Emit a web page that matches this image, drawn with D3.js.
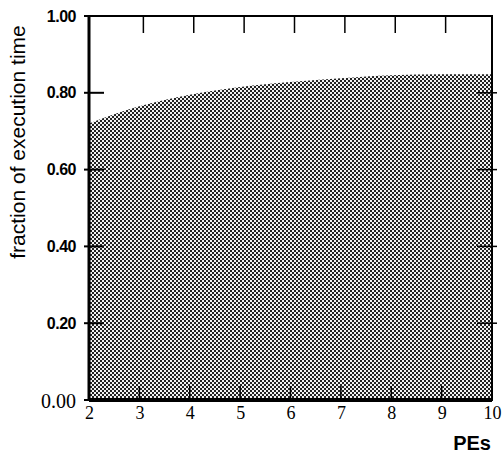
<!DOCTYPE html>
<html><head><meta charset="utf-8">
<script src="https://cdn.jsdelivr.net/npm/d3@7"></script>
<style>body{margin:0;background:#fff}
.serif{font-family:"Liberation Serif","DejaVu Serif","Times New Roman",serif !important;font-weight:normal !important}
.sansb{font-family:"Liberation Sans",Arial,sans-serif;font-weight:bold}
</style>
</head><body>
<svg id="c" width="503" height="464"></svg>
<script>
const pes = [2, 3, 4, 5, 6, 7, 8, 9, 10];
const fraction = [0.72, 0.765, 0.795, 0.815, 0.828, 0.838, 0.846, 0.848, 0.848];
const yTicks = [0, 0.2, 0.4, 0.6, 0.8, 1.0];
const yTickLabels = ["0.00", "0.20", "0.40", "0.60", "0.80", "1.00"];
const xTicks = [2, 3, 4, 5, 6, 7, 8, 9, 10];

const svg = d3.select("#c");
const x = d3.scaleLinear().domain([2, 10]).range([89, 492]);
const y = d3.scaleLinear().domain([0, 1]).range([400, 16]);

const defs = svg.append("defs");
const pat = defs.append("pattern").attr("id", "ht").attr("patternUnits", "userSpaceOnUse")
  .attr("width", 4).attr("height", 4);
pat.append("rect").attr("width", 4).attr("height", 4).attr("fill", "#f2f2f2");
pat.append("rect").attr("x", 0).attr("y", 0).attr("width", 2).attr("height", 2).attr("fill", "#222");
pat.append("rect").attr("x", 2).attr("y", 2).attr("width", 2).attr("height", 2).attr("fill", "#222");

const area = d3.area().x((d, i) => x(pes[i])).y0(y(0)).y1(d => y(d)).curve(d3.curveMonotoneX);
svg.append("path").datum(fraction).attr("d", area).attr("fill", "url(#ht)");

// frame
svg.append("rect").attr("x", x(2)).attr("y", y(1)).attr("width", x(10) - x(2)).attr("height", y(0) - y(1))
  .attr("fill", "none").attr("stroke", "#000").attr("stroke-width", 2);
svg.append("line").attr("x1", x(2)).attr("x2", x(10)).attr("y1", y(0)).attr("y2", y(0))
  .attr("stroke", "#000").attr("stroke-width", 4);
svg.append("line").attr("x1", x(2)).attr("x2", x(2)).attr("y1", y(0)).attr("y2", y(1))
  .attr("stroke", "#000").attr("stroke-width", 3);

// y ticks left
const yl = svg.append("g").attr("transform", `translate(${x(2)},0)`)
  .call(d3.axisLeft(y).tickValues(yTicks).tickSize(0).tickFormat((d, i) => yTickLabels[i]).tickPadding(13));
yl.select(".domain").remove();
yl.attr("font-family", null).attr("font-size", null);
yl.selectAll("text").attr("class", "sansb").attr("font-size", 16).attr("fill", "#000")
  .attr("letter-spacing", -0.5);
yl.selectAll("text").filter(d => d === 0).attr("class", "serif").attr("font-size", 20).attr("letter-spacing", 0).attr("dy", "0.35em");
svg.selectAll(".ytl").data(yTicks.filter(d => d > 0 && d < 1)).enter().append("line")
  .attr("x1", x(2) - 5).attr("x2", x(2) + 15).attr("y1", d => y(d)).attr("y2", d => y(d))
  .attr("stroke", "#000").attr("stroke-width", 2);
svg.selectAll(".ytr").data(yTicks.filter(d => d > 0 && d < 1)).enter().append("line")
  .attr("x1", x(10) - 15).attr("x2", x(10) + 5).attr("y1", d => y(d)).attr("y2", d => y(d))
  .attr("stroke", "#000").attr("stroke-width", 1.5);
svg.append("line").attr("x1", x(2) - 5).attr("x2", x(2)).attr("y1", y(0)).attr("y2", y(0)).attr("stroke", "#000").attr("stroke-width", 2);
svg.append("line").attr("x1", x(2) - 5).attr("x2", x(2)).attr("y1", y(1)).attr("y2", y(1)).attr("stroke", "#000").attr("stroke-width", 2);

// x axis
const xa = svg.append("g").attr("transform", `translate(0,${y(0)})`)
  .call(d3.axisBottom(x).tickValues(xTicks).tickSize(0).tickFormat(d3.format("d")).tickPadding(6));
xa.select(".domain").remove();
xa.attr("font-family", null).attr("font-size", null);
xa.selectAll("text").attr("class", "serif").attr("font-size", 18).attr("fill", "#000");
svg.selectAll(".xtt").data(xTicks.slice(1, -1)).enter().append("line")
  .attr("x1", d => x(d) + 4).attr("x2", d => x(d) + 4).attr("y1", y(1)).attr("y2", y(1) + 17)
  .attr("stroke", "#000").attr("stroke-width", 1.5);
svg.selectAll(".xtb").data(xTicks.slice(1, -1)).enter().append("line")
  .attr("x1", d => x(d)).attr("x2", d => x(d)).attr("y1", y(0)).attr("y2", y(0) - 14)
  .attr("stroke", "#000").attr("stroke-width", 1.5);

svg.append("text").attr("x", 491).attr("y", 450).attr("text-anchor", "end")
  .attr("class", "sansb").attr("font-size", 20)
  .text("PEs");
svg.append("text").attr("transform", "translate(25,142) rotate(-90)").attr("text-anchor", "middle")
  .attr("font-family", "Liberation Sans, Arial, sans-serif").attr("font-size", 21)
  .text("fraction of execution time");
</script>
</body></html>
